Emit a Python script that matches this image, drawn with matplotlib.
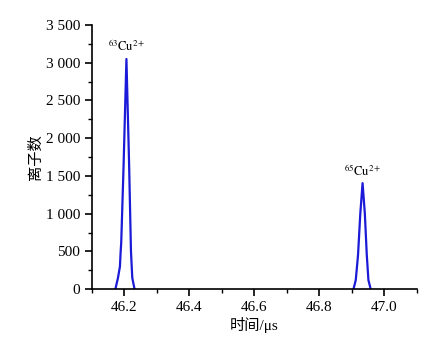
import matplotlib
matplotlib.use("Agg")
from matplotlib import pyplot as plt
from matplotlib.ticker import MultipleLocator, FuncFormatter

plt.rcParams['font.family'] = ['Liberation Serif', 'Noto Sans CJK SC']
plt.rcParams['mathtext.fontset'] = 'stix'

# time (us) and ion counts
t1 = [46.172, 46.180, 46.186, 46.188, 46.190, 46.197, 46.206, 46.214, 46.220, 46.224, 46.231]
n1 = [0, 150, 300, 480, 620, 1600, 3050, 1700, 500, 150, 0]
t2 = [46.905, 46.912, 46.919, 46.926, 46.933, 46.940, 46.946, 46.951, 46.958]
n2 = [0, 120, 450, 1000, 1405, 1000, 450, 120, 0]
peak_labels = [r'$^{63}\mathrm{Cu}^{2+}$', r'$^{65}\mathrm{Cu}^{2+}$']
peak_pos = [(46.206, 3050), (46.933, 1405)]

fig = plt.figure(figsize=(4.36, 3.43), dpi=100)
ax = fig.add_axes([0.211, 0.157, 0.745, 0.770])

ax.plot(t1, n1, color='#1a1ad8', lw=1.6)
ax.plot(t2, n2, color='#1a1ad8', lw=1.6)

for lab, (x, y) in zip(peak_labels, peak_pos):
    ax.text(x, y + 60, lab, ha='center', va='bottom', fontsize=9)

ax.set_xlim(46.1, 47.1)
ax.set_ylim(0, 3500)
ax.xaxis.set_major_locator(MultipleLocator(0.2))
ax.xaxis.set_minor_locator(MultipleLocator(0.1))
ax.yaxis.set_major_locator(MultipleLocator(500))
ax.yaxis.set_minor_locator(MultipleLocator(250))
ax.xaxis.set_major_formatter(FuncFormatter(lambda v, p: '%.1f' % v))
ax.yaxis.set_major_formatter(FuncFormatter(
    lambda v, p: ('%d %03d' % divmod(int(v), 1000)) if v >= 1000 else '%d' % v))

for s in ['top', 'right']:
    ax.spines[s].set_visible(False)
ax.spines['left'].set_linewidth(1.2)
ax.spines['bottom'].set_linewidth(1.2)
ax.tick_params(which='both', direction='out', labelsize=11, color='black')
ax.tick_params(which='major', length=5, width=1.2)
ax.tick_params(which='minor', length=3, width=1.0)

ax.set_xlabel('时间/μs', fontsize=11, labelpad=2)
ax.set_ylabel('离子数', fontsize=11, labelpad=2)

fig.savefig('out.png', dpi=100)
